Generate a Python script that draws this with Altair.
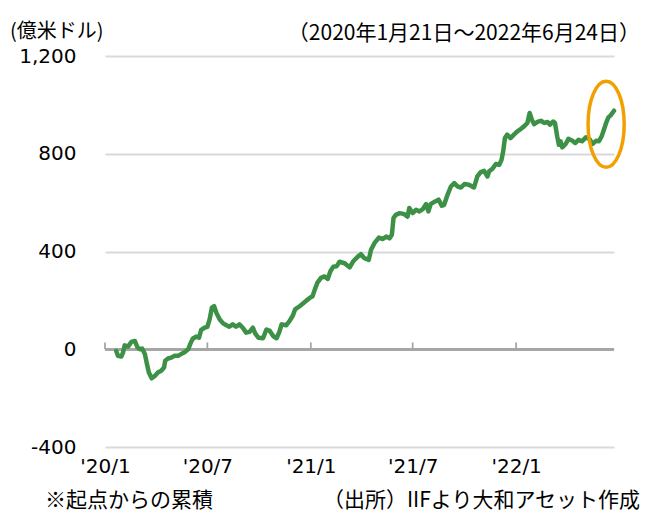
import altair as alt
import pandas as pd

# cumulative flows (100 million USD)
dates = [
    "2020-01-21", "2020-01-24", "2020-01-30", "2020-02-02", "2020-02-05", "2020-02-11",
    "2020-02-17", "2020-02-23", "2020-02-28", "2020-03-03", "2020-03-07", "2020-03-12",
    "2020-03-15", "2020-03-19", "2020-03-24", "2020-03-30", "2020-04-04", "2020-04-10",
    "2020-04-15", "2020-04-17", "2020-04-22", "2020-04-28", "2020-05-04", "2020-05-10",
    "2020-05-16", "2020-05-22", "2020-05-28", "2020-06-01", "2020-06-05", "2020-06-11",
    "2020-06-16", "2020-06-20", "2020-06-26", "2020-07-01", "2020-07-05", "2020-07-09",
    "2020-07-13", "2020-07-17", "2020-07-23", "2020-07-29", "2020-08-04", "2020-08-09",
    "2020-08-15", "2020-08-21", "2020-08-27", "2020-09-02", "2020-09-08", "2020-09-14",
    "2020-09-20", "2020-09-24", "2020-09-30", "2020-10-08", "2020-10-14", "2020-10-20",
    "2020-10-26", "2020-11-01", "2020-11-06", "2020-11-10", "2020-11-18", "2020-11-24",
    "2020-11-30", "2020-12-04", "2020-12-12", "2020-12-18", "2020-12-24", "2020-12-30",
    "2021-01-04", "2021-01-08", "2021-01-13", "2021-01-19", "2021-01-25", "2021-01-31",
    "2021-02-05", "2021-02-10", "2021-02-16", "2021-02-21", "2021-03-02", "2021-03-11",
    "2021-03-17", "2021-03-26", "2021-03-31", "2021-04-06", "2021-04-14", "2021-04-18",
    "2021-04-24", "2021-05-02", "2021-05-09", "2021-05-15", "2021-05-21", "2021-05-25",
    "2021-05-28", "2021-06-01", "2021-06-08", "2021-06-16", "2021-06-22", "2021-06-25",
    "2021-07-01", "2021-07-07", "2021-07-13", "2021-07-19", "2021-07-25", "2021-07-29",
    "2021-08-02", "2021-08-10", "2021-08-16", "2021-08-22", "2021-08-26", "2021-09-01",
    "2021-09-07", "2021-09-13", "2021-09-19", "2021-09-25", "2021-10-01", "2021-10-09",
    "2021-10-18", "2021-10-21", "2021-10-24", "2021-10-30", "2021-11-05", "2021-11-11",
    "2021-11-14", "2021-11-20", "2021-11-26", "2021-12-02", "2021-12-06", "2021-12-09",
    "2021-12-12", "2021-12-16", "2021-12-22", "2021-12-28", "2022-01-03", "2022-01-09",
    "2022-01-15", "2022-01-21", "2022-01-25", "2022-01-29", "2022-02-02", "2022-02-08",
    "2022-02-14", "2022-02-20", "2022-02-26", "2022-03-02", "2022-03-08", "2022-03-11",
    "2022-03-15", "2022-03-18", "2022-03-21", "2022-03-24", "2022-03-30", "2022-04-04",
    "2022-04-11", "2022-04-16", "2022-04-22", "2022-04-28", "2022-05-05", "2022-05-11",
    "2022-05-17", "2022-05-23", "2022-05-28", "2022-06-02", "2022-06-06", "2022-06-10",
    "2022-06-14", "2022-06-18", "2022-06-24",
]
values = [
    -7, -27, -30, -14, 16, 11,
    30, 34, 7, 0, 3, -20,
    -54, -95, -119, -108, -95, -88,
    -75, -47, -38, -34, -27, -27,
    -19, -11, 0, 24, 43, 52,
    47, 79, 88, 92, 122, 170,
    176, 149, 122, 106, 98, 92,
    102, 92, 102, 88, 68, 71,
    88, 65, 47, 45, 81, 75,
    54, 45, 71, 102, 98, 115,
    138, 163, 176, 187, 199, 210,
    217, 244, 274, 292, 298, 288,
    320, 338, 340, 358, 352, 335,
    359, 380, 389, 373, 366, 407,
    434, 457, 451, 461, 454, 468,
    537, 550, 557, 553, 543, 578,
    557, 571, 564, 573, 594, 564,
    594, 605, 612, 587, 591, 632,
    666, 680, 666, 662, 676, 673,
    662, 684, 707, 725, 730, 707,
    728, 739, 758, 755, 775, 810,
    864, 878, 864, 878, 891, 901,
    912, 926, 967, 939, 921, 930,
    935, 926, 930, 919, 932, 926,
    871, 837, 851, 826, 840, 861,
    853, 844, 857, 851, 867, 861,
    840, 853, 851, 871, 898, 926,
    949, 957, 976,
]

tick_dates = ["2020-01-01", "2020-07-01", "2021-01-01", "2021-07-01", "2022-01-01"]
y_ticks = [-400, 0, 400, 800, 1200]
highlight_date = ["2022-06-10"]
highlight_value = [921]

unit_label = "(億米ドル)"
period_label = "（2020年1月21日～2022年6月24日）"
note_label = "※起点からの累積"
source_label = "（出所）IIFより大和アセット作成"

df = pd.DataFrame({"date": dates, "value": values})
ticks_df = pd.DataFrame({"date": tick_dates})
hl_df = pd.DataFrame({"date": highlight_date, "value": highlight_value})

x_scale = alt.Scale(
    type="utc",
    domain=[alt.DateTime(year=2020, month=1, date=1, utc=True),
            alt.DateTime(year=2022, month=6, date=24, utc=True)],
)
y_scale = alt.Scale(domain=[-400, 1200], nice=False, zero=False)

NUM_FONT = "DejaVu Sans"
JP_FONT = "Noto Sans CJK JP"

x_axis = alt.Axis(
    values=[alt.DateTime(year=int(d[:4]), month=int(d[5:7]), date=1, utc=True) for d in tick_dates],
    labelExpr="\"'\" + utcFormat(datum.value, '%y') + '/' + utcFormat(datum.value, '%-m')",
    domain=False, ticks=False, tickSize=0, grid=False, title=None,
    labelFont=NUM_FONT, labelFontSize=20, labelColor="#000000",
    labelPadding=9, labelAlign="center", labelFlush=False, labelOverlap=False,
)
y_axis = alt.Axis(
    values=y_ticks, title=None,
    labelExpr="replace(format(datum.value, ',d'), '\u2212', '-')",
    domain=False, ticks=False, tickSize=0,
    grid=True, gridColor="#d9d9d9", gridWidth=1.8,
    labelFont=NUM_FONT, labelFontSize=20, labelColor="#000000",
    labelPadding=29,
)

zero_line = alt.Chart(df).mark_rule(color="#a6a6a6", strokeWidth=1.8).encode(
    y=alt.datum(0, scale=y_scale, axis=y_axis, type="quantitative"),
)

tick_marks = alt.Chart(ticks_df).mark_rule(color="#a6a6a6", strokeWidth=1.8).encode(
    x=alt.X("date:T", scale=x_scale, axis=x_axis, title=None),
    y=alt.datum(0, scale=y_scale, axis=y_axis, type="quantitative"),
    y2=alt.datum(28),
)

line = alt.Chart(df).mark_line(color="#3d9147", strokeWidth=4.5, strokeJoin="round", strokeCap="round").encode(
    x=alt.X("date:T", scale=x_scale, axis=x_axis, title=None),
    y=alt.Y("value:Q", scale=y_scale, axis=y_axis, title=None),
)

ellipse_path = ("M 0 -1 C 0.232 -1 0.42 -0.552 0.42 0 C 0.42 0.552 0.232 1 0 1 "
                "C -0.232 1 -0.42 0.552 -0.42 0 C -0.42 -0.552 -0.232 -1 0 -1 Z")
ellipse = alt.Chart(hl_df).mark_point(
    shape=ellipse_path, size=7400, filled=False, color="#f2a000", strokeWidth=3.5, opacity=1,
).encode(
    x=alt.X("date:T", scale=x_scale, axis=x_axis, title=None),
    y=alt.Y("value:Q", scale=y_scale, axis=y_axis, title=None),
)

def label(text, x, y, align, font=JP_FONT, size=21, baseline="middle"):
    return alt.Chart(pd.DataFrame({"t": [text]})).mark_text(
        font=font, fontSize=size, align=align, baseline=baseline, color="#000000",
    ).encode(text="t:N", x=alt.value(x), y=alt.value(y))

texts = [
    label(unit_label, -95, -24, "left", size=20),
    label(period_label, 535, -22, "right", size=21),
    label(note_label, -60, 455, "left", baseline="bottom"),
    label(source_label, 535, 455, "right", baseline="bottom"),
]

chart = alt.layer(zero_line, tick_marks, line, ellipse, *texts).properties(
    width=509,
    height=391,
    autosize=alt.AutoSizeParams(type="none"),
    padding={"left": 97, "top": 48, "right": 27, "bottom": 66},
).configure_view(stroke=None)

chart.save("out.html", embed_options={"renderer": "svg", "actions": False})
